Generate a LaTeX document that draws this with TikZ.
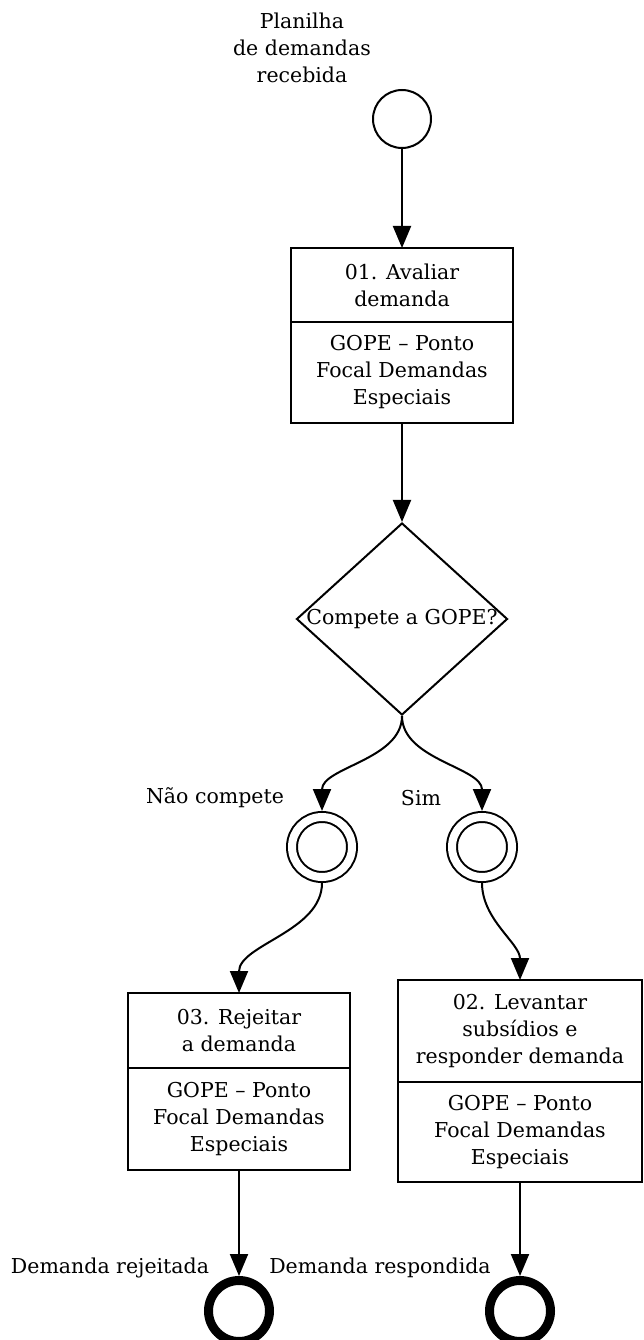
\documentclass[tikz,border=0pt]{standalone}
\usepackage{fontspec}
\setmainfont{DejaVu Serif}
\usetikzlibrary{arrows.meta, shapes.geometric, positioning}

\tikzset{
  flow/.style={-{Triangle[length=22pt,width=18pt]}, line width=2pt},
  taskbox/.style={draw, line width=2.2pt, align=center, inner sep=0pt, outer sep=0pt},
  startev/.style={draw, circle, line width=2pt, minimum size=58pt, inner sep=0pt},
  midev/.style={draw, circle, line width=2pt, double, double distance=8pt, minimum size=60pt, inner sep=0pt, outer sep=6pt},
  endev/.style={draw, circle, line width=9pt, minimum size=61pt, inner sep=0pt},
  gateway/.style={draw, diamond, line width=2pt, minimum width=211pt, minimum height=192pt, inner sep=0pt}
}

\begin{document}
\begin{tikzpicture}[x=1pt, y=-1pt, font=\fontsize{20.5pt}{27pt}\selectfont]
  \useasboundingbox (0,0) rectangle (643,1340);

  % start event
  \node[startev] (start) at (402,119) {};
  \node[align=center] (startlbl) at (302,48) {Planilha\\de demandas\\recebida};

  % 01
  \node[taskbox, minimum width=222pt, minimum height=74pt] (t1) at (402,285) {01. Avaliar\\demanda};
  \node[taskbox, minimum width=222pt, minimum height=101pt, below=0pt of t1] (r1) {GOPE -- Ponto\\Focal Demandas\\Especiais};

  % gateway
  \node[gateway] (gw) at (402,619) {\makebox[0pt]{Compete a GOPE?}};

  % intermediate events
  \node[midev] (eno) at (322,847) {};
  \node[midev] (eyes) at (482,847) {};
  \node (lno) at (215,798) {Não compete};
  \node (lyes) at (421,798) {Sim};

  % 03
  \node[taskbox, minimum width=222pt, minimum height=75pt] (t3) at (239,1030.5) {03. Rejeitar\\a demanda};
  \node[taskbox, minimum width=222pt, minimum height=102pt, below=0pt of t3] (r3) {GOPE -- Ponto\\Focal Demandas\\Especiais};

  % 02
  \node[taskbox, minimum width=244pt, minimum height=102pt] (t2) at (520,1031) {02. Levantar\\subsídios e\\responder demanda};
  \node[taskbox, minimum width=244pt, minimum height=100pt, below=0pt of t2] (r2) {GOPE -- Ponto\\Focal Demandas\\Especiais};

  % end events
  \node[endev] (endrej) at (239,1311) {};
  \node[endev] (endresp) at (520,1311) {};
  \node (lrej) at (110,1268) {Demanda rejeitada};
  \node (lresp) at (380,1268) {Demanda respondida};

  % flows
  \draw[flow] (start) -- (t1);
  \draw[flow] (r1) -- (gw);
  \draw[flow] (gw.south) to[out=-90, in=90, looseness=0.9] (eno.north);
  \draw[flow] (gw.south) to[out=-90, in=90, looseness=0.9] (eyes.north);
  \draw[flow] (eno.south) to[out=-90, in=90, looseness=0.9] (t3.north);
  \draw[flow] (eyes.south) to[out=-90, in=90, looseness=0.9] (t2.north);
  \draw[flow] (r3) -- (endrej);
  \draw[flow] (r2) -- (endresp);
\end{tikzpicture}
\end{document}
